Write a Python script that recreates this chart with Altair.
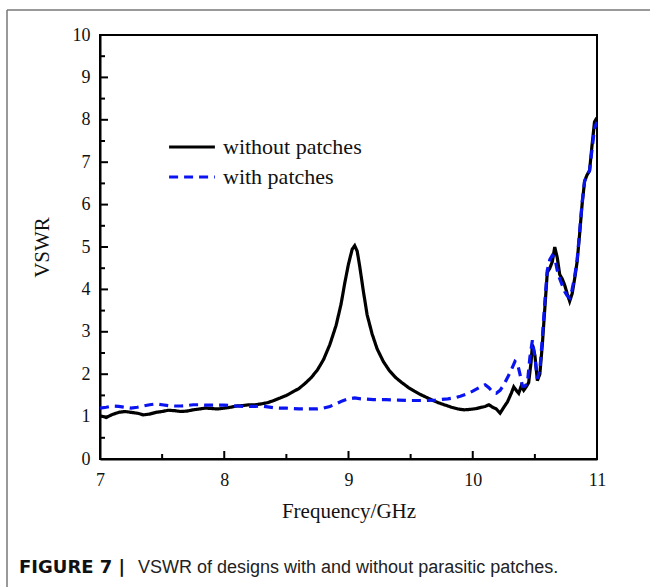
import altair as alt
import pandas as pd

# ---- data ----
freq_without = [7.00, 7.05, 7.10, 7.15, 7.20, 7.25, 7.30, 7.35, 7.40, 7.45, 7.50, 7.55, 7.60, 7.65,
                7.70, 7.75, 7.80, 7.85, 7.90, 7.95, 8.00, 8.05, 8.10, 8.15, 8.20, 8.25, 8.30, 8.35,
                8.40, 8.45, 8.50, 8.55, 8.60, 8.65, 8.70, 8.75, 8.80, 8.85, 8.90, 8.94, 8.97, 9.00,
                9.03, 9.05, 9.07, 9.09, 9.12, 9.15, 9.19, 9.23, 9.28, 9.33, 9.38, 9.43, 9.48, 9.53,
                9.58, 9.63, 9.68, 9.73, 9.78, 9.83, 9.88, 9.93, 9.98, 10.03, 10.07,
                10.10, 10.13, 10.16, 10.19, 10.22, 10.25, 10.28, 10.31, 10.33, 10.35, 10.37,
                10.39, 10.41, 10.43, 10.45, 10.47, 10.48, 10.50, 10.52, 10.54, 10.56, 10.58,
                10.60, 10.62, 10.64, 10.66, 10.68, 10.70, 10.72, 10.74, 10.76, 10.78, 10.80,
                10.82, 10.84, 10.86, 10.88, 10.90, 10.92, 10.94, 10.96, 10.98, 11.00]
vswr_without = [1.02, 0.98, 1.05, 1.10, 1.12, 1.10, 1.08, 1.04, 1.06, 1.10, 1.12, 1.15, 1.14, 1.12,
                1.13, 1.16, 1.18, 1.20, 1.19, 1.18, 1.20, 1.22, 1.25, 1.26, 1.28, 1.28, 1.30, 1.33,
                1.38, 1.44, 1.50, 1.58, 1.66, 1.78, 1.92, 2.10, 2.35, 2.70, 3.15, 3.65, 4.15, 4.60,
                4.95, 5.03, 4.90, 4.55, 3.95, 3.40, 2.95, 2.60, 2.30, 2.08, 1.92, 1.80, 1.69, 1.60,
                1.52, 1.45, 1.38, 1.32, 1.27, 1.22, 1.18, 1.16, 1.17, 1.19, 1.22,
                1.24, 1.28, 1.22, 1.18, 1.08, 1.22, 1.35, 1.55, 1.70, 1.62, 1.55, 1.72, 1.62,
                1.70, 1.80, 2.30, 2.70, 2.45, 1.85, 2.00, 2.70, 3.55,
                4.40, 4.50, 4.65, 5.00, 4.75, 4.35, 4.25, 4.10, 3.90, 3.72, 3.90,
                4.25, 4.65, 5.30, 6.00, 6.55, 6.70, 6.80, 7.40, 7.95, 8.05]

freq_with = [7.00, 7.05, 7.10, 7.15, 7.20, 7.25, 7.30, 7.35, 7.40, 7.45, 7.50, 7.55, 7.60, 7.65,
             7.70, 7.75, 7.80, 7.85, 7.90, 7.95, 8.00, 8.05, 8.10, 8.15, 8.20, 8.25, 8.30, 8.35,
             8.40, 8.45, 8.50, 8.55, 8.60, 8.65, 8.70, 8.75, 8.80, 8.85, 8.90, 8.95, 9.00, 9.05,
             9.10, 9.20, 9.30, 9.40, 9.50, 9.60, 9.70, 9.80, 9.85, 9.90, 9.95, 10.00, 10.05, 10.10,
             10.13, 10.16, 10.19, 10.22, 10.25, 10.28, 10.31, 10.34, 10.36, 10.38, 10.40,
             10.42, 10.44, 10.46, 10.48, 10.50, 10.52, 10.54, 10.56, 10.58, 10.60, 10.62,
             10.64, 10.66, 10.68, 10.70, 10.72, 10.74, 10.76, 10.78, 10.80, 10.82, 10.84,
             10.86, 10.88, 10.90, 10.92, 10.94, 10.96, 10.98, 11.00]
vswr_with = [1.20, 1.22, 1.25, 1.24, 1.22, 1.20, 1.22, 1.25, 1.28, 1.30, 1.28, 1.26, 1.25, 1.25,
             1.26, 1.28, 1.28, 1.27, 1.27, 1.27, 1.27, 1.26, 1.25, 1.24, 1.24, 1.24, 1.25, 1.23,
             1.21, 1.20, 1.20, 1.19, 1.18, 1.18, 1.18, 1.18, 1.20, 1.24, 1.30, 1.37, 1.42, 1.44,
             1.42, 1.40, 1.40, 1.39, 1.38, 1.38, 1.39, 1.42, 1.44, 1.48, 1.53, 1.60, 1.68, 1.75,
             1.68, 1.58, 1.55, 1.62, 1.75, 1.92, 2.10, 2.30, 2.25, 2.00, 1.72,
             1.72, 1.80, 2.40, 2.80, 2.40, 1.90, 2.10, 2.85, 3.70, 4.45, 4.70,
             4.80, 4.75, 4.45, 4.25, 4.10, 3.95, 3.85, 3.80, 4.00, 4.30, 4.70,
             5.35, 6.05, 6.55, 6.70, 6.80, 7.30, 7.80, 7.95]

series_names = ["without patches", "with patches"]
x_major = [7, 8, 9, 10, 11]
x_minor = [7.5, 8.5, 9.5, 10.5]
y_major = [0, 1, 2, 3, 4, 5, 6, 7, 8, 9, 10]
y_minor = [0.5, 1.5, 2.5, 3.5, 4.5, 5.5, 6.5, 7.5, 8.5, 9.5]
caption_bold = "FIGURE 7 |"
caption_rest = "VSWR of designs with and without parasitic patches."

# ---- build tables ----
df = pd.concat([
    pd.DataFrame({"freq": freq_without, "vswr": vswr_without, "series": series_names[0]}),
    pd.DataFrame({"freq": freq_with, "vswr": vswr_with, "series": series_names[1]}),
], ignore_index=True)

W, H = 497, 424
SERIF = "Liberation Serif"
SANS = "Liberation Sans"

axis_style = dict(
    domainColor="black", domainWidth=2, ticks=False, grid=False, format="d", labelFlush=False,
    labelFont=SERIF, labelFontSize=18, labelColor="#111",
    titleFont=SERIF, titleFontSize=21, titleColor="#111", titleFontWeight="normal",
)

xscale = alt.Scale(domain=[7, 11], nice=False, zero=False)
yscale = alt.Scale(domain=[0, 10], nice=False)
xaxis = alt.Axis(title="Frequency/GHz", values=x_major, labelPadding=12, titlePadding=11,
                 **axis_style)
yaxis = alt.Axis(title="VSWR", values=y_major, labelPadding=10, titlePadding=20,
                 **axis_style)

lines = alt.Chart(df).mark_line(strokeWidth=3.2, clip=True).encode(
    x=alt.X("freq:Q", scale=xscale, axis=xaxis),
    y=alt.Y("vswr:Q", scale=yscale, axis=yaxis),
    color=alt.Color("series:N",
                    scale=alt.Scale(domain=series_names, range=["#000000", "#0a14f0"]),
                    legend=alt.Legend(title=None, orient="none", legendX=67, legendY=101,
                                      symbolType="stroke", symbolSize=2100,
                                      symbolStrokeWidth=3.2, labelFont=SERIF,
                                      labelFontSize=22, labelColor="#111",
                                      clipHeight=22, rowPadding=8, labelOffset=6, padding=0,
                                      labelLimit=400)),
    strokeDash=alt.StrokeDash("series:N",
                              scale=alt.Scale(domain=series_names, range=[[1, 0], [9, 6]]),
                              legend=None),
    order=alt.Order("freq:Q"),
)

xt_major = alt.Chart(pd.DataFrame({"freq": x_major})).mark_rule(color="black", strokeWidth=2).encode(
    x=alt.X("freq:Q", scale=xscale, axis=xaxis), y=alt.value(H), y2=alt.value(H - 8))
xt_minor = alt.Chart(pd.DataFrame({"freq": x_minor})).mark_rule(color="black", strokeWidth=2).encode(
    x=alt.X("freq:Q", scale=xscale, axis=xaxis), y=alt.value(H), y2=alt.value(H - 5))
yt_major = alt.Chart(pd.DataFrame({"vswr": y_major})).mark_rule(color="black", strokeWidth=2).encode(
    y=alt.Y("vswr:Q", scale=yscale, axis=yaxis), x=alt.value(0), x2=alt.value(8))
yt_minor = alt.Chart(pd.DataFrame({"vswr": y_minor})).mark_rule(color="black", strokeWidth=2).encode(
    y=alt.Y("vswr:Q", scale=yscale, axis=yaxis), x=alt.value(0), x2=alt.value(5))

# outer figure frame (left and top edges)
frame_left = alt.Chart(pd.DataFrame({"a": [0]})).mark_rule(color="#777", strokeWidth=1.5).encode(
    x=alt.value(-93), y=alt.value(-25), y2=alt.value(560))
frame_top = alt.Chart(pd.DataFrame({"a": [0]})).mark_rule(color="#777", strokeWidth=1.5).encode(
    x=alt.value(-93), x2=alt.value(560), y=alt.value(-25))

cap1 = alt.Chart(pd.DataFrame({"t": [caption_bold]})).mark_text(
    font="DejaVu Sans", fontSize=18, fontWeight="bold", align="left", baseline="alphabetic",
    color="#111"
).encode(text="t:N", x=alt.value(-81), y=alt.value(538))
cap2 = alt.Chart(pd.DataFrame({"t": [caption_rest]})).mark_text(
    font=SANS, fontSize=18, align="left", baseline="alphabetic", color="#222"
).encode(text="t:N", x=alt.value(38), y=alt.value(538))

chart = alt.layer(
    frame_left, frame_top, lines, xt_major, xt_minor, yt_major, yt_minor, cap1, cap2
).properties(
    width=W, height=H, background="white",
    autosize=alt.AutoSizeParams(type="none"),
    padding={"left": 100, "top": 35, "right": 53, "bottom": 128},
).configure_view(
    stroke="black", strokeWidth=2
)

chart.save("out.html", embed_options={"renderer": "svg", "actions": False})
